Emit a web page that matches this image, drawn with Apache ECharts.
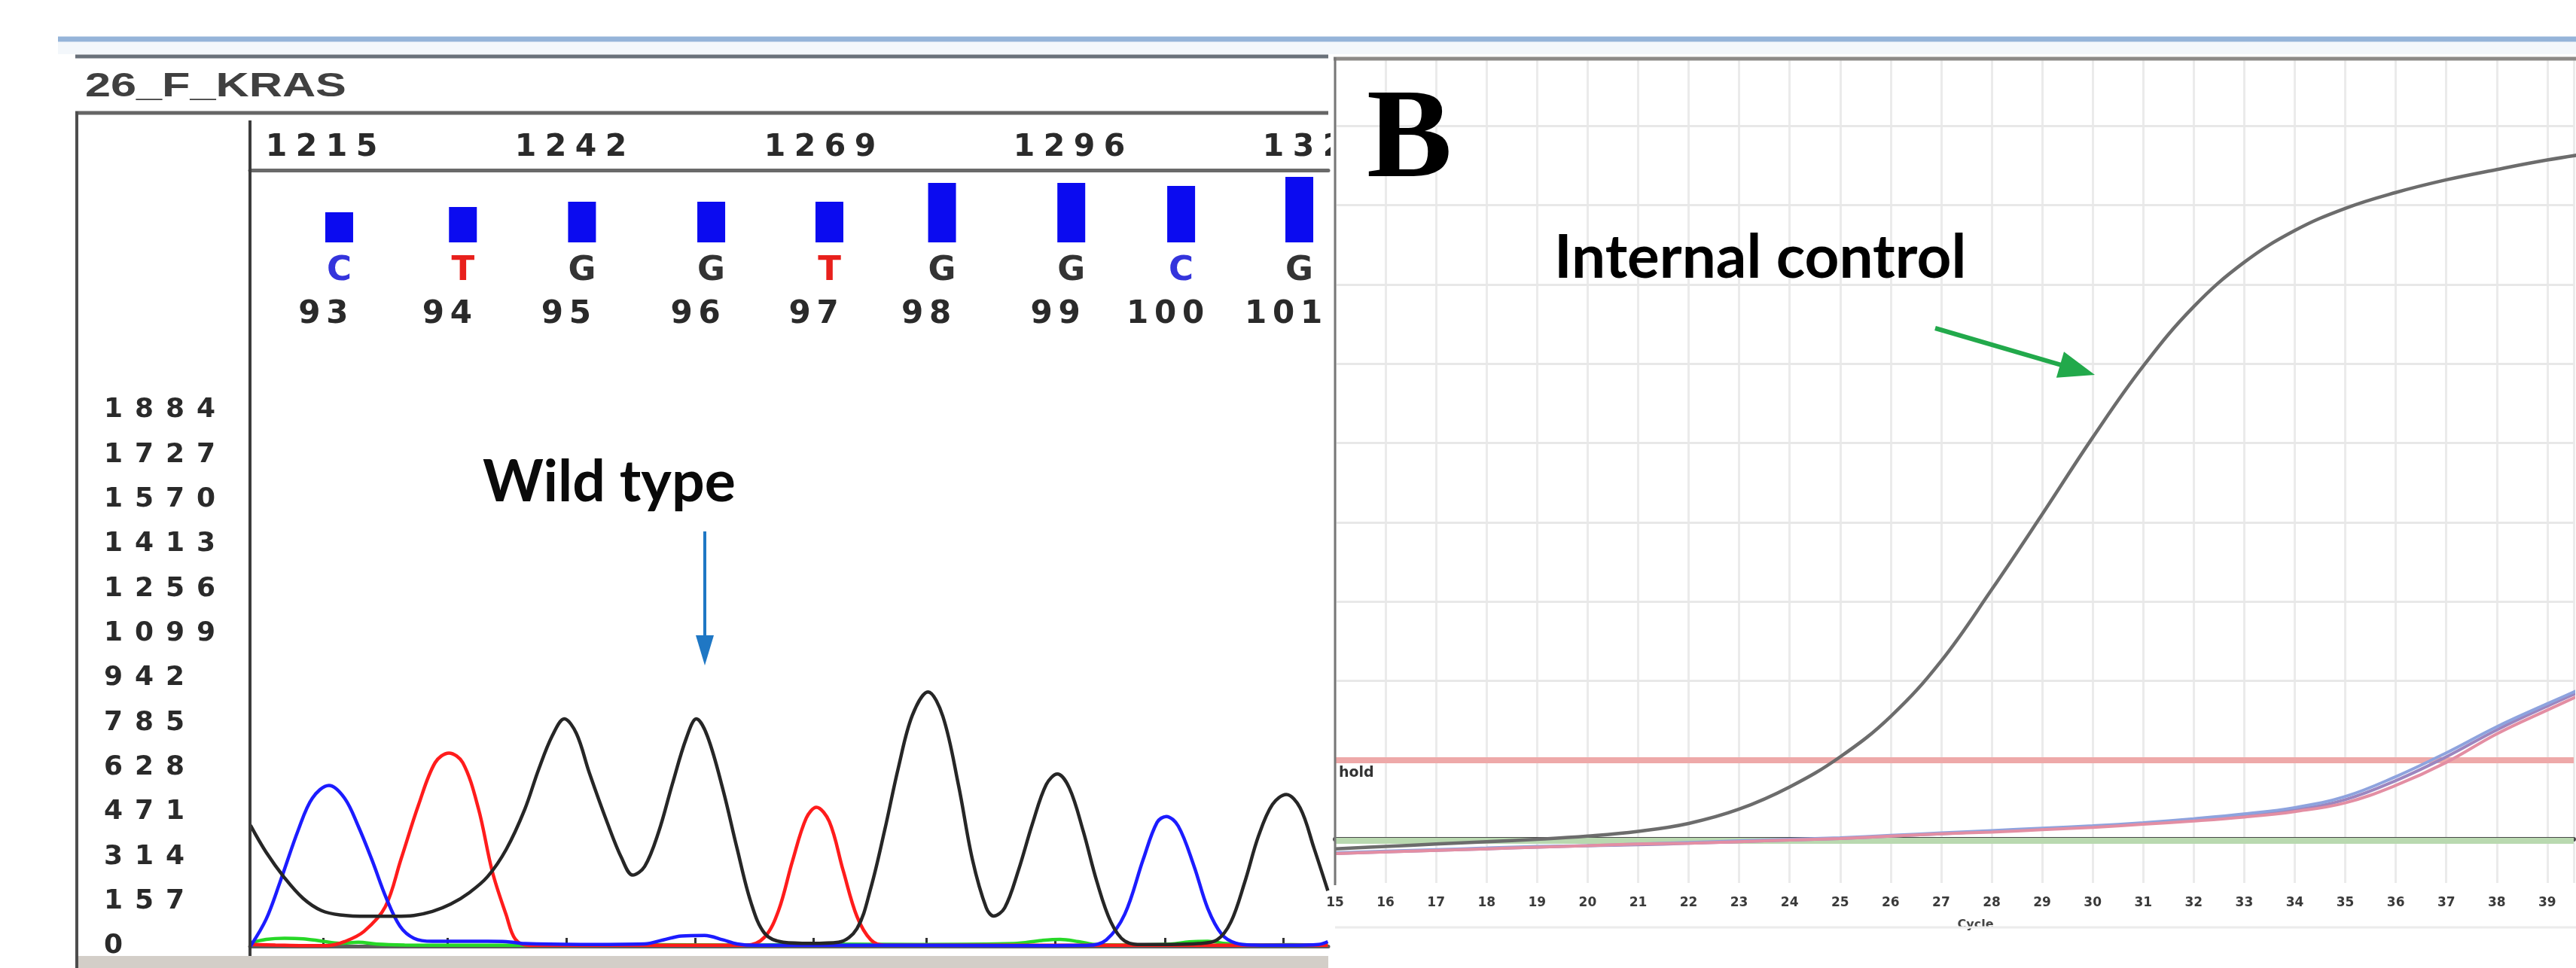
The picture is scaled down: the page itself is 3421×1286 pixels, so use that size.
<!DOCTYPE html>
<html><head><meta charset="utf-8">
<script src="https://cdn.jsdelivr.net/npm/echarts@6/dist/echarts.min.js"></script>
<style>html,body{margin:0;padding:0;background:#fff}#c{width:3421px;height:1286px}</style>
</head><body><div id="c"></div>
<script>
// ================= Panel A : Sanger chromatogram (26_F_KRAS) =================
const scanTicks   = [1215, 1242, 1269, 1296, 1323];
const baseNumbers = [93, 94, 95, 96, 97, 98, 99, 100, 101];
const baseCalls   = ['C', 'T', 'G', 'G', 'T', 'G', 'G', 'C', 'G'];
const basePos     = [1215.2, 1228.6, 1241.5, 1255.5, 1268.3, 1280.5, 1294.5, 1306.4, 1319.2];
const baseQuality = [40, 47, 54, 54, 54, 79, 79, 75, 87];
const signalTickStep = 157, signalTickTop = 1884;

const traceG = [[1207.3,425],[1209,330],[1211,240],[1213,168],[1215,125],[1217,110],[1220,105],[1223,105],[1225,108],[1227,122],[1229,148],[1231,188],[1233,245],[1235,340],[1237,480],[1238.5,620],[1240,740],[1241.3,799],[1242.6,748],[1244,610],[1246,430],[1247.5,310],[1248.7,250],[1250,280],[1251.5,400],[1253,570],[1254.5,730],[1255.6,799],[1256.8,738],[1258.5,548],[1260,345],[1261.5,155],[1263,45],[1265,14],[1268,10],[1271,14],[1273,62],[1274.5,205],[1276,408],[1277.5,630],[1279,812],[1280.7,894],[1282.3,808],[1284,565],[1285.5,305],[1287,135],[1287.8,106],[1289,135],[1290.5,268],[1292,430],[1293.5,568],[1294.7,605],[1296,556],[1297.5,405],[1299,225],[1300.5,85],[1302,18],[1304,6],[1307,6],[1310,9],[1312,22],[1313.5,85],[1315,225],[1316.5,388],[1318,498],[1319.5,533],[1321,486],[1322.5,345],[1324,195]];
const traceC = [[1207.3,0],[1209,95],[1210.5,225],[1212.5,410],[1214,520],[1215.8,565],[1217.5,520],[1219,420],[1220.5,300],[1222,170],[1223.5,70],[1225,28],[1227,17],[1230,17],[1233,17],[1235,16],[1237,9],[1243,6],[1250,8],[1252,22],[1254,36],[1256.5,38],[1258.5,22],[1260,8],[1262,3],[1270,3],[1280,3],[1290,2],[1298,3],[1300,22],[1302,112],[1304,305],[1305.5,435],[1306.5,456],[1307.8,422],[1309.5,282],[1311,132],[1312.5,42],[1314,11],[1316,4],[1320,3],[1323,6],[1324,16]];
const traceT = [[1207.3,6],[1210,4],[1213,2],[1215.7,2],[1217.5,16],[1219.6,52],[1221.9,138],[1223.6,305],[1225.5,496],[1227.3,645],[1228.8,679],[1230.3,645],[1232,483],[1233.5,262],[1235,110],[1236,24],[1237.5,3],[1250,3],[1261,3],[1263,32],[1264.5,125],[1266,298],[1267.5,450],[1268.6,488],[1270,438],[1271.5,266],[1273,104],[1274.5,22],[1276,3],[1290,3],[1305,3],[1324,3]];
const traceA = [[1207.3,12],[1209,24],[1211,28],[1213,26],[1215,18],[1217,10],[1219,14],[1221,7],[1224,4],[1230,3],[1240,4],[1250,5],[1260,4],[1270,7],[1280,6],[1290,9],[1293,20],[1295,24],[1297,16],[1299,5],[1303,4],[1307,7],[1309,15],[1311,17],[1313,9],[1316,4],[1320,5],[1324,4]];

// ================= Panel B : real-time PCR amplification =================
const cycles          = [15,16,17,18,19,20,21,22,23,24,25,26,27,28,29,30,31,32,33,34,35,36,37,38,39,40];
const internalControl = [-12,-9,-6,-3,0,4,10,20,38,66,104,155,225,315,410,507,597,672,728,768,796,816,832,845,857,867];
const sampleBlue      = [-17,-15,-13,-11,-9,-8,-6,-4,-2,0,2,5,8,11,14,17,21,26,32,40,54,79,109,142,171,199];
const samplePurple    = [-18,-16,-14,-12,-10,-8,-7,-5,-3,-1,1,4,7,10,13,16,20,25,30,37,50,74,104,138,168,196];
const samplePink      = [-18,-16,-14,-12,-10,-8,-6,-5,-3,-1,1,4,7,9,12,15,19,23,28,35,46,68,97,133,163,192];
const thresholdLevel  = 100;
const baselineLevel   = -2;
const fluorGridLines  = [0,100,200,300,400,500,600,700,800,900];

// ---------------------------------------------------------------------
const W = 3421, H = 1286;
const chart = echarts.init(document.getElementById('c'), null, {width: W, height: H});
const SANS = '"DejaVu Sans", sans-serif';
const cells = (s, k) => String(s).split('').map(ch => '{' + k + '|' + ch + '}').join('');
const nearestBase = v => { let b = 0; basePos.forEach((p, i) => { if (Math.abs(p - v) < Math.abs(basePos[b] - v)) b = i; }); return b; };
const callColor = {C: '#3434dc', T: '#e8201c', G: '#333333', A: '#1faa1f'};
const scanMin = 1207.25, scanMax = 1324.05;

function arrow(x1, y1, x2, y2, color, lw, headLen, headHalf) {
  const dx = x2 - x1, dy = y2 - y1, L = Math.hypot(dx, dy), ux = dx / L, uy = dy / L, nx = -uy, ny = ux;
  const bx = x2 - headLen * ux, by = y2 - headLen * uy;
  return [
    {type: 'line', z: 12, shape: {x1, y1, x2: bx + ux * 4, y2: by + uy * 4}, style: {stroke: color, lineWidth: lw}},
    {type: 'polygon', z: 12, shape: {points: [[x2, y2], [bx + nx * headHalf, by + ny * headHalf], [bx - nx * headHalf, by - ny * headHalf]]}, style: {fill: color}}
  ];
}

const chromLine = (data, color) => ({
  type: 'line', xAxisIndex: 0, yAxisIndex: 0, data, smooth: 0.35, symbol: 'none',
  lineStyle: {color, width: 4.5}, silent: true
});
const pcrLine = (vals, color, width) => ({
  type: 'line', xAxisIndex: 3, yAxisIndex: 3, z: 5, data: cycles.map((c, i) => [c, vals[i]]),
  smooth: 0.4, symbol: 'none', lineStyle: {color, width}, silent: true
});

const option = {
  animation: false,
  backgroundColor: '#ffffff',
  grid: [
    {left: 332, right: W - 1764, top: 453, bottom: H - 1257},
    {left: 353, right: W - 1785, top: 222, bottom: H - 322},
    {left: 332, right: W - 1764, top: 225, height: 1},
    {left: 1773, right: 0, top: 77, bottom: H - 1173}
  ],
  xAxis: [
    {gridIndex: 0, type: 'value', position: 'top', min: scanMin, max: scanMax,
     axisLine: {show: true, lineStyle: {color: '#5c5c5c', width: 5}},
     axisTick: {show: true, customValues: basePos, length: 11, inside: false, lineStyle: {color: '#333', width: 3}},
     axisLabel: {customValues: basePos, margin: 14,
       formatter: v => cells(baseNumbers[nearestBase(v)], 'n'),
       rich: {n: {width: 37, align: 'center', fontFamily: SANS, fontWeight: 'bold', fontSize: 42, color: '#2a2a2a'}}},
     splitLine: {show: false}},
    {gridIndex: 1, type: 'value', min: scanMin, max: scanMax, show: false},
    {gridIndex: 2, type: 'value', position: 'top', min: scanMin, max: scanMax,
     axisLine: {show: true, lineStyle: {color: '#6a6a6a', width: 5}},
     axisTick: {show: false},
     axisLabel: {customValues: scanTicks, margin: 8,
       formatter: v => cells(v, 's'),
       rich: {s: {width: 40, align: 'center', fontFamily: SANS, fontWeight: 'bold', fontSize: 41, color: '#2a2a2a'}}},
     splitLine: {show: false}},
    {gridIndex: 3, type: 'value', min: 15, max: 15 + (W - 1773) / 67.2, interval: 1, z: 3,
     axisLine: {show: true, lineStyle: {color: '#4a4a4a', width: 6}},
     axisTick: {show: false},
     axisLabel: {margin: 18, fontFamily: SANS, fontWeight: 'bold', fontSize: 17, color: '#3a3a3a',
       formatter: v => Number.isInteger(v) ? String(v) : ''},
     splitLine: {show: true, lineStyle: {color: '#ebebeb', width: 3}},
     name: 'Cycle', nameLocation: 'middle', nameGap: 48,
     nameTextStyle: {fontFamily: SANS, fontWeight: 'bold', fontSize: 16, color: '#444', padding: [0, 0, 0, 56]}}
  ],
  yAxis: [
    {gridIndex: 0, type: 'value', min: 0, max: (1257 - 453) / ((1257 - 545) / signalTickTop), interval: signalTickStep,
     axisLine: {show: false}, axisTick: {show: false}, splitLine: {show: false},
     axisLabel: {align: 'left', margin: 202,
       formatter: v => (v <= signalTickTop && Math.abs(v % signalTickStep) < 1e-6) ? cells(Math.round(v), 'y') : '',
       rich: {y: {width: 41, align: 'center', fontFamily: SANS, fontWeight: 'bold', fontSize: 36, color: '#2a2a2a'}}}},
    {gridIndex: 1, type: 'value', min: 0, max: 100, show: false},
    {gridIndex: 2, type: 'value', show: false},
    {gridIndex: 3, type: 'value', min: (1115 - 1173) / 1.053, max: (1115 - 77) / 1.053, show: false}
  ],
  series: [
    chromLine(traceA, '#27d827'),
    chromLine(traceT, '#ff1c1c'),
    chromLine(traceC, '#1c1cff'),
    chromLine(traceG, '#262626'),
    {type: 'bar', xAxisIndex: 1, yAxisIndex: 1, barWidth: 37, silent: true,
     data: basePos.map((p, i) => ({value: [p, baseQuality[i]], label: {color: callColor[baseCalls[i]]}})),
     itemStyle: {color: '#0b0bf0'},
     label: {show: true, position: 'bottom', distance: 16, formatter: p => baseCalls[p.dataIndex],
       fontFamily: SANS, fontWeight: 'bold', fontSize: 45}},
    {type: 'line', xAxisIndex: 3, yAxisIndex: 3, z: 3, data: [], silent: true,
     markLine: {silent: true, symbol: 'none', label: {show: false},
       lineStyle: {color: '#e8e8e8', width: 3, type: 'solid'},
       data: fluorGridLines.map(v => ({yAxis: v}))}},
    {type: 'line', xAxisIndex: 3, yAxisIndex: 3, z: 4, data: [], silent: true,
     markLine: {silent: true, symbol: 'none', label: {show: false},
       data: [
         {yAxis: thresholdLevel, lineStyle: {color: '#eea9a9', width: 8, type: 'solid'}},
         {yAxis: baselineLevel, lineStyle: {color: '#b9d9b0', width: 8, type: 'solid'}}
       ]}},
    pcrLine(samplePurple, '#9c86bf', 4),
    pcrLine(sampleBlue, '#8ea3de', 4),
    pcrLine(samplePink, '#e38ea3', 4),
    pcrLine(internalControl, '#6c6c6c', 4.5)
  ],
  graphic: {elements: [
    {type: 'rect', z: 9, shape: {x: 77, y: 56, width: W - 77, height: 16}, style: {fill: '#f3f7fb'}},
    {type: 'line', z: 10, shape: {x1: 77, y1: 52, x2: W, y2: 52}, style: {stroke: '#95b4d9', lineWidth: 7}},
    {type: 'line', z: 10, shape: {x1: 100, y1: 75, x2: 1764, y2: 75}, style: {stroke: '#69717a', lineWidth: 5}},
    {type: 'text', z: 10, x: 113, y: 116, scaleX: 1.36, style: {text: '26_F_KRAS', font: 'bold 45px "Liberation Sans", Arial, sans-serif', fill: '#404040', textAlign: 'left', textVerticalAlign: 'middle'}},
    {type: 'line', z: 10, shape: {x1: 100, y1: 150, x2: 1764, y2: 150}, style: {stroke: '#666', lineWidth: 5}},
    {type: 'line', z: 10, shape: {x1: 102, y1: 148, x2: 102, y2: H}, style: {stroke: '#4d4d4d', lineWidth: 4}},
    {type: 'line', z: 10, shape: {x1: 332, y1: 160, x2: 332, y2: 1270}, style: {stroke: '#3c3c3c', lineWidth: 4}},
    {type: 'rect', z: 10, shape: {x: 104, y: 1270, width: 1660, height: 16}, style: {fill: '#d3cec8'}},
    {type: 'text', z: 12, x: 641, y: 641, style: {text: 'Wild type', font: 'bold 77px Lato, "Open Sans", sans-serif', fill: '#0a0a0a', textAlign: 'left', textVerticalAlign: 'middle'}},
    ...arrow(936, 706, 936, 884, '#1f77c4', 4, 40, 12),
    {type: 'rect', z: 1, shape: {x: 1767, y: 74, width: W - 1767, height: H - 74}, style: {fill: '#ffffff'}},
    {type: 'line', z: 10, shape: {x1: 1771, y1: 78, x2: W, y2: 78}, style: {stroke: '#8d8b88', lineWidth: 5}},
    {type: 'line', z: 10, shape: {x1: 1773, y1: 76, x2: 1773, y2: 1176}, style: {stroke: '#777', lineWidth: 3}},
    {type: 'line', z: 10, shape: {x1: 1773, y1: 1232, x2: W, y2: 1232}, style: {stroke: '#ececec', lineWidth: 3}},
    {type: 'text', z: 12, x: 1815, y: 190, style: {text: 'B', font: 'bold 170px "Liberation Serif", "Times New Roman", serif', fill: '#000', textAlign: 'left', textVerticalAlign: 'middle'}},
    {type: 'text', z: 12, x: 2064, y: 343, style: {text: 'Internal control', font: 'bold 80px Lato, "Open Sans", sans-serif', fill: '#000', textAlign: 'left', textVerticalAlign: 'middle'}},
    {type: 'text', z: 12, x: 1778, y: 1027, style: {text: 'hold', font: 'bold 19px "DejaVu Sans", sans-serif', fill: '#333', textAlign: 'left', textVerticalAlign: 'middle'}},
    ...arrow(2570, 436, 2782, 498, '#22a94b', 6, 48, 18)
  ]}
};
chart.setOption(option);
</script>
</body></html>
